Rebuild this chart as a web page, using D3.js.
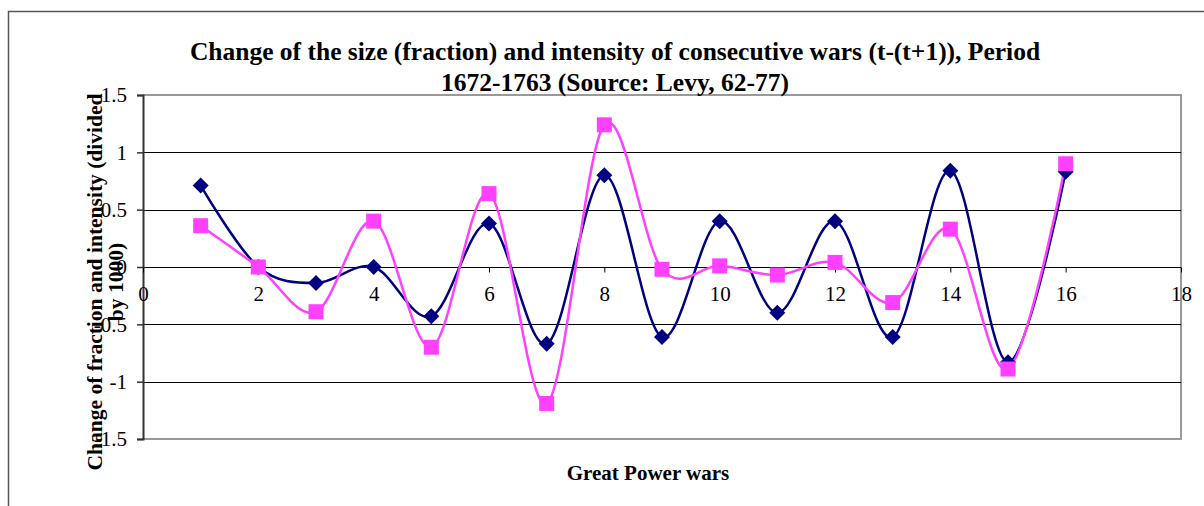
<!DOCTYPE html>
<html>
<head>
<meta charset="utf-8">
<script src="https://cdn.jsdelivr.net/npm/d3@7"></script>
<style>
  html, body { margin: 0; padding: 0; background: #fff; }
  svg { display: block; }
  text { font-family: "Liberation Serif", "Times New Roman", serif; fill: #000; }
</style>
</head>
<body>
<svg id="chart" width="1204" height="506"></svg>
<script>
const xValues = [1, 2, 3, 4, 5, 6, 7, 8, 9, 10, 11, 12, 13, 14, 15, 16];
const sizeChange = [0.71, 0.0, -0.14, 0.0, -0.43, 0.38, -0.67, 0.80, -0.61, 0.40, -0.40, 0.40, -0.61, 0.84, -0.83, 0.83];
const intensityChange = [0.36, 0.0, -0.39, 0.40, -0.70, 0.64, -1.19, 1.24, -0.02, 0.01, -0.07, 0.04, -0.31, 0.33, -0.89, 0.90];
const xTicks = [0, 2, 4, 6, 8, 10, 12, 14, 16, 18];
const yTicks = [1.5, 1, 0.5, 0, -0.5, -1, -1.5];
const titleLines = ["Change of the size (fraction) and intensity of consecutive wars (t-(t+1)), Period", "1672-1763 (Source: Levy, 62-77)"];
const yTitleLines = ["Change of fraction and intensity (divided", "by 1000)"];
const xTitle = "Great Power wars";

const svg = d3.select("#chart");
const plot = { left: 143, top: 95, right: 1181, bottom: 439 };

const x = d3.scaleLinear().domain([0, 18]).range([plot.left, plot.right]);
const y = d3.scaleLinear().domain([-1.5, 1.5]).range([plot.bottom, plot.top]);

// outer frame
svg.append("path")
  .attr("d", `M8.5,506 L8.5,11.5 L1204,11.5`)
  .attr("fill", "none").attr("stroke", "#555").attr("stroke-width", 1.5);

// plot area border (gray)
svg.append("path")
  .attr("d", `M${plot.left},${plot.top} L${plot.right},${plot.top} L${plot.right},${plot.bottom} L${plot.left},${plot.bottom}`)
  .attr("fill", "none").attr("stroke", "#999").attr("stroke-width", 2);

// gridlines
svg.append("g").selectAll("line")
  .data(yTicks.filter(d => d !== 1.5 && d !== -1.5))
  .join("line")
  .attr("x1", plot.left).attr("x2", plot.right)
  .attr("y1", d => Math.round(y(d)) + 0.5).attr("y2", d => Math.round(y(d)) + 0.5)
  .attr("stroke", "#000").attr("stroke-width", 1);

// y axis
const yAxis = d3.axisLeft(y).tickValues(yTicks).tickSize(6).tickPadding(10)
  .tickFormat(d => String(d));
const gy = svg.append("g").attr("transform", `translate(${plot.left},0)`).call(yAxis);
gy.select(".domain").attr("stroke", "#333").attr("stroke-width", 2);
gy.selectAll(".tick line").attr("stroke", "#333").attr("stroke-width", 1.5);
gy.selectAll(".tick text").style("font-size", "21px").style("font-family", "Liberation Serif, serif").attr("fill", "#000");

// x axis at zero
const xAxis = d3.axisBottom(x).tickValues(xTicks).tickSize(5).tickPadding(14)
  .tickFormat(d => String(d));
const gx = svg.append("g").attr("transform", `translate(0,${Math.round(y(0)) + 0.5})`).call(xAxis);
gx.select(".domain").remove();
gx.selectAll(".tick line").attr("stroke", "#000").attr("stroke-width", 1);
gx.selectAll(".tick text").style("font-size", "21px").style("font-family", "Liberation Serif, serif").attr("fill", "#000");

// lines
const line = d3.line().x((d, i) => x(xValues[i])).y(d => y(d)).curve(d3.curveCatmullRom.alpha(0));

svg.append("path").datum(sizeChange)
  .attr("d", line).attr("fill", "none").attr("stroke", "#000080").attr("stroke-width", 2.5);
svg.append("path").datum(intensityChange)
  .attr("d", line).attr("fill", "none").attr("stroke", "#FF40FF").attr("stroke-width", 2.5);

// markers
svg.append("g").selectAll("path")
  .data(sizeChange)
  .join("path")
  .attr("transform", (d, i) => `translate(${x(xValues[i])},${y(d)})`)
  .attr("d", "M0,-8 L8,0 L0,8 L-8,0 Z")
  .attr("fill", "#000080");

svg.append("g").selectAll("rect")
  .data(intensityChange)
  .join("rect")
  .attr("x", (d, i) => x(xValues[i]) - 7.5)
  .attr("y", d => y(d) - 7.5)
  .attr("width", 15).attr("height", 15)
  .attr("fill", "#FF40FF");

// title
svg.append("g").selectAll("text").data(titleLines).join("text")
  .attr("x", 615).attr("y", (d, i) => 60 + i * 31)
  .attr("text-anchor", "middle")
  .style("font-size", "25.5px").style("font-weight", "bold")
  .text(d => d);

// y title
const yt = svg.append("g").attr("transform", "translate(0,282) rotate(-90)");
yt.selectAll("text").data(yTitleLines).join("text")
  .attr("text-anchor", "middle")
  .attr("x", 0).attr("y", (d, i) => 102 + i * 21)
  .style("font-size", "21.5px").style("font-weight", "bold")
  .text(d => d);

// x title
svg.append("text")
  .attr("x", 648).attr("y", 480)
  .attr("text-anchor", "middle")
  .style("font-size", "21px").style("font-weight", "bold")
  .text(xTitle);
</script>
</body>
</html>
